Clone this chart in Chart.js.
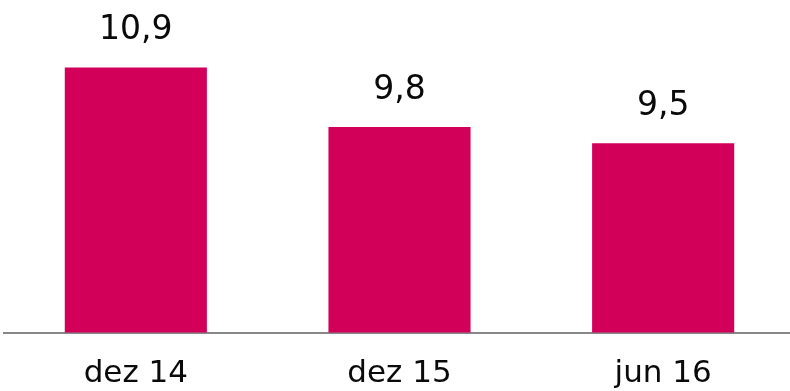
<!DOCTYPE html>
<html>
<head>
<meta charset="utf-8">
<script src="https://cdn.jsdelivr.net/npm/chart.js@4/dist/chart.umd.min.js"></script>
<style>
  html, body { margin: 0; padding: 0; background: #fff; overflow: hidden; }
  #wrap { width: 790px; height: 391px; overflow: hidden; }
</style>
</head>
<body>
<div id="wrap"><canvas id="c" width="795" height="391"></canvas></div>
<script>
// Periods and values
const categories = ["dez 14", "dez 15", "jun 16"];
const values = [10.9, 9.8, 9.5];

const BAR_COLOR = "#D20058";
const TEXT_COLOR = "#0a0a0a";
const FONT = "'DejaVu Sans', sans-serif";

// Writes each value above its bar, Portuguese decimal comma
const valueLabels = {
  id: "valueLabels",
  afterDatasetsDraw(chart) {
    const ctx = chart.ctx;
    const meta = chart.getDatasetMeta(0);
    ctx.save();
    ctx.fillStyle = TEXT_COLOR;
    ctx.font = "33px " + FONT;
    ctx.textAlign = "center";
    ctx.textBaseline = "alphabetic";
    meta.data.forEach((bar, i) => {
      const txt = String(values[i]).replace(".", ",");
      ctx.fillText(txt, bar.x, bar.y - 28);
    });
    ctx.restore();
  }
};

new Chart(document.getElementById("c"), {
  type: "bar",
  data: {
    labels: categories,
    datasets: [{
      data: values,
      backgroundColor: BAR_COLOR,
      borderWidth: 0,
      categoryPercentage: 1,
      barPercentage: 0.539
    }]
  },
  options: {
    responsive: false,
    animation: false,
    events: [],
    layout: { padding: { top: 62, left: 4, right: 0, bottom: 0 } },
    plugins: { legend: { display: false }, tooltip: { enabled: false } },
    scales: {
      y: {
        display: false,
        min: 6,
        max: 11
      },
      x: {
        grid: { display: false },
        border: { display: true, color: "#888888", width: 2 },
        ticks: {
          color: TEXT_COLOR,
          font: { family: FONT, size: 31 },
          padding: 15,
          maxRotation: 0
        },
        afterFit(scale) { scale.height = 58.5; }
      }
    }
  },
  plugins: [valueLabels]
});
</script>
</body>
</html>
